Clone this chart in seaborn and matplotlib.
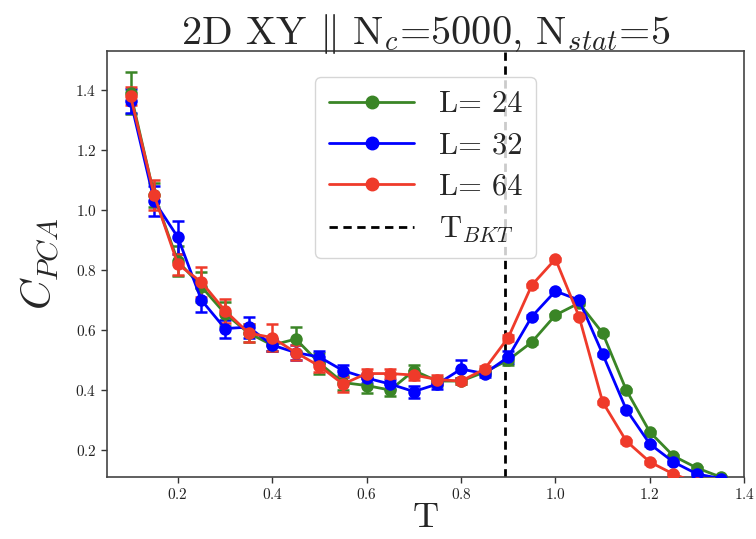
import numpy as np
import pandas as pd
import matplotlib
matplotlib.use("Agg")
import matplotlib.pyplot as plt
import seaborn as sns
from matplotlib.lines import Line2D

T = [0.10, 0.15, 0.20, 0.25, 0.30, 0.35, 0.40, 0.45, 0.50, 0.55, 0.60, 0.65, 0.70,
     0.75, 0.80, 0.85, 0.90, 0.95, 1.00, 1.05, 1.10, 1.15, 1.20, 1.25, 1.30, 1.35]

C_L24 = [1.39, 1.05, 0.83, 0.745, 0.655, 0.59, 0.55, 0.57, 0.49, 0.425, 0.415, 0.40, 0.465,
         0.43, 0.43, 0.46, 0.50, 0.56, 0.65, 0.69, 0.59, 0.40, 0.26, 0.18, 0.14, 0.11]
E_L24 = [0.07, 0.04, 0.05, 0.05, 0.04, 0.03, 0.02, 0.04, 0.035, 0.025, 0.025, 0.02, 0.02,
         0.015, 0.01, 0.01, 0.015, 0.005, 0.005, 0.005, 0.005, 0.005, 0.005, 0.005, 0.005, 0.005]

C_L32 = [1.365, 1.03, 0.91, 0.70, 0.605, 0.61, 0.55, 0.525, 0.51, 0.465, 0.44, 0.42, 0.395,
         0.42, 0.47, 0.455, 0.51, 0.645, 0.73, 0.70, 0.52, 0.335, 0.22, 0.16, 0.12, 0.105]
E_L32 = [0.04, 0.05, 0.055, 0.04, 0.03, 0.035, 0.02, 0.025, 0.02, 0.02, 0.015, 0.015, 0.02,
         0.015, 0.03, 0.01, 0.02, 0.005, 0.005, 0.005, 0.005, 0.005, 0.005, 0.005, 0.005, 0.005]

C_L64 = [1.38, 1.05, 0.82, 0.76, 0.665, 0.59, 0.575, 0.525, 0.48, 0.42, 0.455, 0.455, 0.45,
         0.435, 0.43, 0.47, 0.575, 0.75, 0.837, 0.645, 0.36, 0.23, 0.16, 0.12, 0.09, 0.07]
E_L64 = [0.03, 0.05, 0.035, 0.05, 0.04, 0.03, 0.045, 0.025, 0.02, 0.025, 0.015, 0.015, 0.015,
         0.015, 0.01, 0.01, 0.01, 0.005, 0.005, 0.005, 0.005, 0.005, 0.005, 0.005, 0.005, 0.005]

sizes = ["L= 24", "L= 32", "L= 64"]
colors = ["#3a8526", "#0000ff", "#ef3a2a"]
T_BKT = 0.893

series = {"L= 24": (C_L24, E_L24), "L= 32": (C_L32, E_L32), "L= 64": (C_L64, E_L64)}
rows = []
for lab in sizes:
    c, e = series[lab]
    for t, v, err in zip(T, c, e):
        rows.append({"T": t, "C": v, "err": err, "L": lab})
df = pd.DataFrame(rows)

sns.set_theme(style="white")
plt.rcParams["font.family"] = "serif"
plt.rcParams["font.serif"] = ["cmr10", "DejaVu Serif"]
plt.rcParams["mathtext.fontset"] = "cm"
plt.rcParams["axes.formatter.use_mathtext"] = True

fig = plt.figure(figsize=(7.56, 5.39), dpi=100)
ax = fig.add_axes([0.1415, 0.115, 0.843, 0.79])

pal = dict(zip(sizes, colors))
for lab in sizes:
    sub = df[df["L"] == lab]
    ax.errorbar(sub["T"], sub["C"], yerr=sub["err"], fmt="none", ecolor=pal[lab],
                elinewidth=1.8, capsize=4, capthick=1.8, zorder=2)
    sns.lineplot(data=sub, x="T", y="C", color=pal[lab], marker="o", markersize=9,
                 markeredgewidth=0, linewidth=2, ax=ax, zorder=3, legend=False)

ax.axvline(T_BKT, color="black", ls=(0, (3, 2)), lw=2, zorder=1)

ax.set_xlim(0.05, 1.4)
ax.set_ylim(0.11, 1.53)
ax.set_xticks([0.2, 0.4, 0.6, 0.8, 1.0, 1.2, 1.4])
ax.set_yticks([0.2, 0.4, 0.6, 0.8, 1.0, 1.2, 1.4])
ax.tick_params(axis="both", which="major", labelsize=11, length=4, width=1,
               direction="out", bottom=True, left=True, colors="#333333",
               labelcolor="#222222")
for s in ax.spines.values():
    s.set_color("#444444")
    s.set_linewidth(1.2)

ax.set_xlabel("T", fontsize=26, labelpad=0)
ax.set_ylabel(r"$C_{PCA}$", fontsize=30, labelpad=10)
ax.set_title(r"2D XY $\|$ N$_c$=5000, N$_{stat}$=5", fontsize=29, pad=5)

handles = [Line2D([0], [0], color=c, marker="o", markersize=9, lw=2) for c in colors]
handles.append(Line2D([0], [0], color="black", ls=(0, (3, 2)), lw=2))
labels = sizes + [r"T$_{BKT}$"]
leg = ax.legend(handles, labels, loc="upper center", bbox_to_anchor=(0.5, 0.975),
                fontsize=22, frameon=True, fancybox=True, framealpha=0.8,
                edgecolor="#cccccc", handlelength=2.8, borderpad=0.45,
                labelspacing=0.45)

fig.savefig("out.png", dpi=100)
